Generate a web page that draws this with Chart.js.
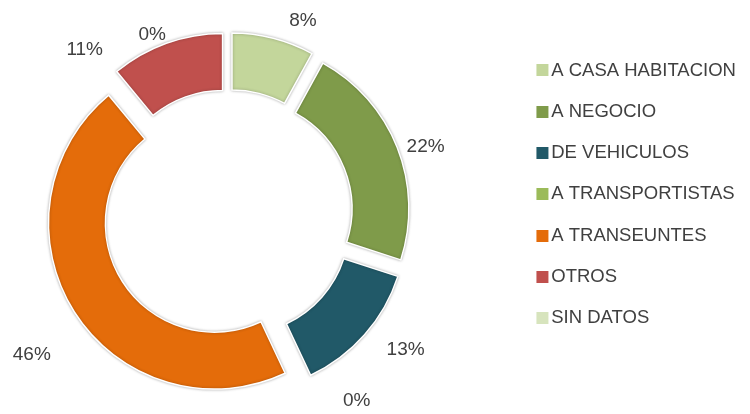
<!DOCTYPE html>
<html>
<head>
<meta charset="utf-8">
<script src="https://cdn.jsdelivr.net/npm/chart.js@4.4.1/dist/chart.umd.min.js"></script>
<style>
  html, body { margin: 0; padding: 0; background: #ffffff; }
  #wrap { width: 750px; height: 414px; }
</style>
</head>
<body>
<div id="wrap"><canvas id="chart" width="750" height="414"></canvas></div>
<script>
// Tipos de robo y su participación (%)
const categories = ['A CASA HABITACION', 'A NEGOCIO', 'DE VEHICULOS', 'A TRANSPORTISTAS', 'A TRANSEUNTES', 'OTROS', 'SIN DATOS'];
const shares = [8, 22, 13, 0, 46, 11, 0];
const sliceColors = ['#C3D69B', '#7F9B4A', '#215968', '#9BBB59', '#E46C0A', '#C0504D', '#D7E4BD'];

const FONT_FAMILY = "'Liberation Sans', Arial, sans-serif";
const TEXT_COLOR = '#404040';
const LEGEND_SIZE = 18.5;
const LEGEND_GAP = 22.8;

// Layout: ring centred at ringCenterX, legend squares at squareX.
const ringCenterX = 228;
const squareX = 536;
const squareSize = 12;
const textX = squareX + squareSize + 3.25;
const legendLeft = 2 * ringCenterX;              // chart area runs from 0 to here
const itemX = legendLeft + LEGEND_GAP;
const boxLead = textX - LEGEND_SIZE / 2 - itemX;  // legend "box" width before the text

// Legend swatch: a canvas twice the box width, centred on the box, with the
// coloured square drawn just before the text.
function swatch(color) {
  const c = document.createElement('canvas');
  c.width = Math.round(2 * boxLead);
  c.height = squareSize;
  const g = c.getContext('2d');
  g.fillStyle = color;
  g.fillRect(Math.round(1.5 * boxLead - squareSize / 2), 0, squareSize, squareSize);
  return c;
}

// Pulls every slice outwards along its own bisector and gives it a soft shadow.
const explode = {
  id: 'explode',
  beforeDatasetDraw(chart, args, opts) {
    const ctx = chart.ctx;
    args.meta.data.forEach(arc => {
      const {startAngle, endAngle} = arc.getProps(['startAngle', 'endAngle'], true);
      const mid = (startAngle + endAngle) / 2;
      ctx.save();
      ctx.shadowColor = opts.shadowColor;
      ctx.shadowBlur = opts.shadowBlur;
      ctx.translate(Math.cos(mid) * opts.distance, Math.sin(mid) * opts.distance);
      arc.draw(ctx, chart.chartArea);
      ctx.restore();
    });
    return false;
  }
};

// Percentage labels outside the ring; each is turned a little from its slice
// bisector so neighbouring labels do not collide.
const sliceLabels = {
  id: 'sliceLabels',
  afterDatasetsDraw(chart, args, opts) {
    const ctx = chart.ctx;
    const meta = chart.getDatasetMeta(0);
    const values = chart.data.datasets[0].data;
    ctx.save();
    ctx.font = opts.size + 'px ' + FONT_FAMILY;
    ctx.fillStyle = opts.color;
    ctx.textAlign = 'center';
    ctx.textBaseline = 'middle';
    meta.data.forEach((arc, i) => {
      const {x, y, startAngle, endAngle} = arc.getProps(['x', 'y', 'startAngle', 'endAngle'], true);
      const a = (startAngle + endAngle) / 2 + opts.turn[i] * Math.PI / 180;
      const r = opts.reach[i];
      ctx.fillText(values[i] + '%', x + Math.cos(a) * r, y + Math.sin(a) * r);
    });
    ctx.restore();
  }
};

// Right padding so that the legend box starts exactly at legendLeft.
const measure = document.createElement('canvas').getContext('2d');
measure.font = LEGEND_SIZE + 'px ' + FONT_FAMILY;
const widest = Math.max(...categories.map(t => measure.measureText(t).width));
const legendWidth = LEGEND_GAP + boxLead + LEGEND_SIZE / 2 + widest + 10;
const padRight = Math.max(750 - legendLeft - legendWidth, 0);

Chart.defaults.font.family = FONT_FAMILY;

new Chart(document.getElementById('chart'), {
  type: 'doughnut',
  data: {
    labels: categories,
    datasets: [{
      data: shares,
      backgroundColor: sliceColors,
      borderColor: '#ffffff',
      borderWidth: 1.5,
      borderJoinStyle: 'miter',
      hoverOffset: 0,
      offset: 0
    }]
  },
  options: {
    responsive: false,
    devicePixelRatio: 1,
    animation: false,
    radius: 166,
    cutout: '65.7%',
    layout: { padding: { left: 0, right: padRight, top: 15, bottom: 0 } },
    plugins: {
      legend: {
        position: 'right',
        align: 'start',
        title: { display: true, text: '', font: { size: 12 }, padding: { top: 9, bottom: 0 } },
        labels: {
          font: { family: FONT_FAMILY, size: LEGEND_SIZE },
          color: TEXT_COLOR,
          usePointStyle: true,
          pointStyleWidth: boxLead,
          boxHeight: squareSize,
          padding: LEGEND_GAP,
          generateLabels(chart) {
            const items = Chart.overrides.doughnut.plugins.legend.labels.generateLabels(chart);
            return items.map((it, i) => Object.assign(it, { pointStyle: swatch(sliceColors[i]), lineWidth: 0 }));
          }
        }
      },
      tooltip: { enabled: false },
      explode: { distance: 16, shadowColor: 'rgba(0,0,0,0.3)', shadowBlur: 3 },
      sliceLabels: {
        size: 19,
        color: TEXT_COLOR,
        turn: [6.7, 2.6, -4.2, -9.5, -3.1, -21.3, -22.9],
        reach: [208, 209, 223, 226, 241, 218, 195]
      }
    }
  },
  plugins: [explode, sliceLabels]
});
</script>
</body>
</html>
